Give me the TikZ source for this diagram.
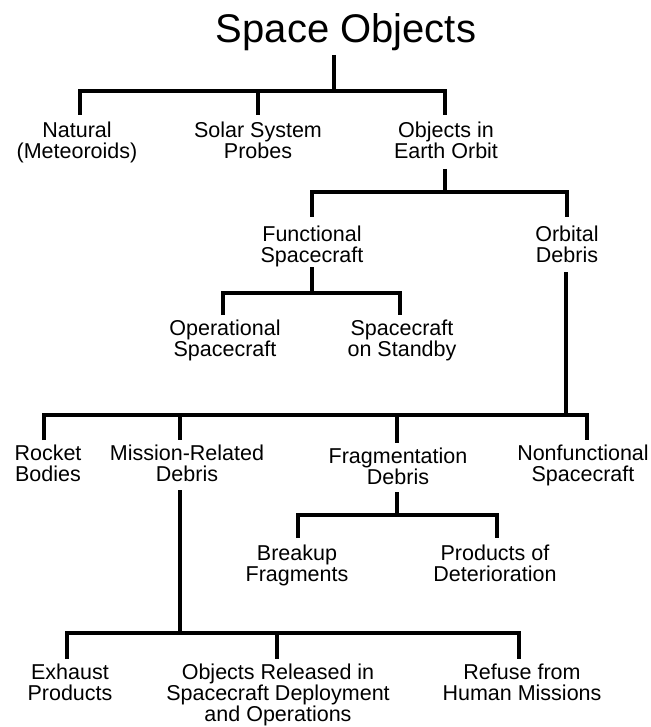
\documentclass[tikz,border=0pt]{standalone}
\usepackage{fontspec}
\setmainfont{Liberation Sans}
\begin{document}
\begin{tikzpicture}[x=1pt,y=-1pt,
  lbl/.style={anchor=north, inner sep=0pt, align=center, font=\fontsize{21.5}{21}\selectfont},
  ttl/.style={anchor=base, inner sep=0pt, font=\fontsize{40}{40}\selectfont},
  tree/.style={line width=4.5pt, line join=miter}]
\useasboundingbox (0,0) rectangle (650,727);
% nodes
\node[ttl] (title) at (346,43) {Space Objects};
\node[lbl] (nat) at (77,122) {Natural\\(Meteoroids)};
\node[lbl] (solar) at (258,122) {Solar System\\Probes};
\node[lbl] (earth) at (446,122) {Objects in\\Earth Orbit};
\node[lbl] (funct) at (312,226) {Functional\\Spacecraft};
\node[lbl] (orbit) at (567,226) {Orbital\\Debris};
\node[lbl] (oper) at (225,320) {Operational\\Spacecraft};
\node[lbl] (stand) at (402,320) {Spacecraft\\on Standby};
\node[lbl] (rocket) at (48,445) {Rocket\\Bodies};
\node[lbl] (mission) at (187,445) {Mission-Related\\Debris};
\node[lbl] (frag) at (398,448) {Fragmentation\\Debris};
\node[lbl] (nonf) at (583,445) {Nonfunctional\\Spacecraft};
\node[lbl] (brk) at (297,545) {Breakup\\Fragments};
\node[lbl] (prod) at (495,545) {Products of\\Deterioration};
\node[lbl] (exh) at (70,664) {Exhaust\\Products};
\node[lbl] (rel) at (278,664) {Objects Released in\\Spacecraft Deployment\\and Operations};
\node[lbl] (ref) at (522,664) {Refuse from\\Human Missions};
% connector end points
\coordinate (title-out) at (334,55);   \coordinate (j1) at (334,91);
\coordinate (nat-in) at (80,115);      \coordinate (solar-in) at (258,115);
\coordinate (earth-in) at (445,115);   \coordinate (earth-out) at (445,169);
\coordinate (j2) at (445,192);
\coordinate (funct-in) at (312,217);   \coordinate (orbit-in) at (567,217);
\coordinate (funct-out) at (312,267);  \coordinate (j3) at (312,293);
\coordinate (oper-in) at (223,315);    \coordinate (stand-in) at (400,315);
\coordinate (orbit-out) at (566,272);  \coordinate (j4) at (566,415);
\coordinate (rocket-in) at (44,440);   \coordinate (mission-in) at (180,440);
\coordinate (frag-in) at (397,443);    \coordinate (nonf-in) at (587,440);
\coordinate (mission-out) at (180,490); \coordinate (j6) at (180,633);
\coordinate (frag-out) at (397,492);   \coordinate (j5) at (397,515);
\coordinate (brk-in) at (298,538);     \coordinate (prod-in) at (497,538);
\coordinate (exh-in) at (67,659);      \coordinate (rel-in) at (277,659);
\coordinate (ref-in) at (519,659);
% level 1
\draw[tree] (title-out) -- (j1);
\draw[tree] (nat-in) -- (nat-in |- j1) -- (earth-in |- j1) -- (earth-in);
\draw[tree] (solar-in |- j1) -- (solar-in);
% level 2
\draw[tree] (earth-out) -- (j2);
\draw[tree] (funct-in) -- (funct-in |- j2) -- (orbit-in |- j2) -- (orbit-in);
% level 3
\draw[tree] (funct-out) -- (j3);
\draw[tree] (oper-in) -- (oper-in |- j3) -- (stand-in |- j3) -- (stand-in);
% orbital debris
\draw[tree] (orbit-out) -- (j4);
\draw[tree] (rocket-in) -- (rocket-in |- j4) -- (nonf-in |- j4) -- (nonf-in);
\draw[tree] (mission-in |- j4) -- (mission-in);
\draw[tree] (frag-in |- j4) -- (frag-in);
% fragmentation
\draw[tree] (frag-out) -- (j5);
\draw[tree] (brk-in) -- (brk-in |- j5) -- (prod-in |- j5) -- (prod-in);
% mission-related
\draw[tree] (mission-out) -- (j6);
\draw[tree] (exh-in) -- (exh-in |- j6) -- (ref-in |- j6) -- (ref-in);
\draw[tree] (rel-in |- j6) -- (rel-in);
\end{tikzpicture}
\end{document}
